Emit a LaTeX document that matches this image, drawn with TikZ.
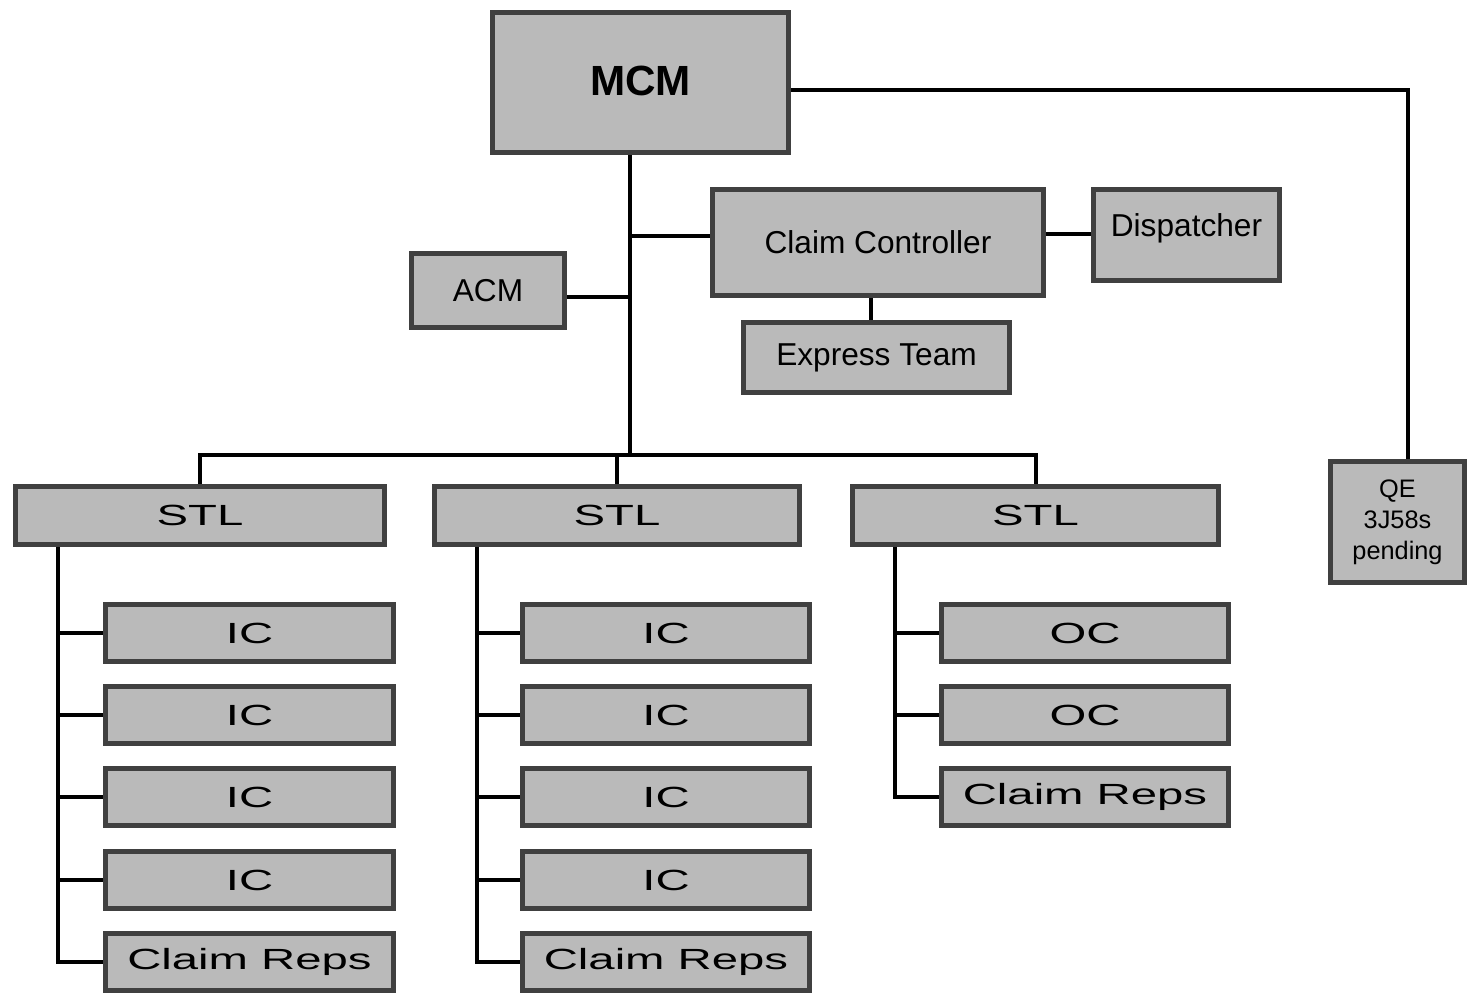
\documentclass[tikz,border=0pt]{standalone}
\usepackage{fontspec}
\usepackage{graphicx}
\setmainfont{Liberation Sans}
\newcommand{\widetxt}[1]{\scalebox{1.62}[1]{#1}}
\tikzset{
  box/.style={draw=black!75, fill=black!27, line width=0.5mm, inner sep=0pt, rectangle, align=center},
  conn/.style={line width=0.4mm, black},
  midtxt/.style={font=\fontsize{9}{11}\selectfont},
  wtxt/.style={font=\fontsize{8.3}{10}\selectfont},
  child/.style={box, minimum width=28.7mm, minimum height=5.7mm, wtxt},
}
\begin{document}
\begin{tikzpicture}[x=0.01cm, y=-0.01cm]
\useasboundingbox[fill=white] (0,0) rectangle (1469,995);
% top nodes
\node[box, minimum width=29.6mm, minimum height=14.0mm, font=\fontsize{12}{14}\selectfont\bfseries] (mcm) at (640.5,82.5) {\raisebox{1pt}{MCM}};
\node[box, minimum width=33.1mm, minimum height=10.6mm, midtxt] (cc) at (878,242.5) {Claim Controller};
\node[box, minimum width=18.6mm, minimum height=9.1mm, midtxt] (disp) at (1186.5,235) {\raisebox{5.5pt}{Dispatcher}};
\node[box, minimum width=15.3mm, minimum height=7.4mm, midtxt] (acm) at (488,290.5) {ACM};
\node[box, minimum width=26.6mm, minimum height=7.0mm, midtxt] (exp) at (876.5,357.5) {Express Team};
\node[box, minimum width=13.4mm, minimum height=12.1mm, font=\fontsize{7.2}{8.8}\selectfont] (qe) at (1397.5,522) {QE\\3J58s\\pending};
% STL nodes
\node[box, minimum width=36.9mm, minimum height=5.8mm, wtxt] (stl1) at (200,515.5) {\widetxt{STL}};
\node[box, minimum width=36.5mm, minimum height=5.8mm, wtxt] (stl2) at (617,515.5) {\widetxt{STL}};
\node[box, minimum width=36.6mm, minimum height=5.8mm, wtxt] (stl3) at (1035.5,515.5) {\widetxt{STL}};
% column 1
\node[child] (a1) at (249.5,633) {\widetxt{IC}};
\node[child] (a2) at (249.5,715) {\widetxt{IC}};
\node[child] (a3) at (249.5,797) {\widetxt{IC}};
\node[child] (a4) at (249.5,880) {\widetxt{IC}};
\node[child] (a5) at (249.5,962) {\widetxt{Claim Reps}};
% column 2
\node[child] (b1) at (666,633) {\widetxt{IC}};
\node[child] (b2) at (666,715) {\widetxt{IC}};
\node[child] (b3) at (666,797) {\widetxt{IC}};
\node[child] (b4) at (666,880) {\widetxt{IC}};
\node[child] (b5) at (666,962) {\widetxt{Claim Reps}};
% column 3
\node[child] (c1) at (1085,633) {\widetxt{OC}};
\node[child] (c2) at (1085,715) {\widetxt{OC}};
\node[child] (c3) at (1085,797) {\widetxt{Claim Reps}};
% coordinates
\coordinate (bus) at (630,455);
\coordinate (j1) at (630,236);
\coordinate (j2) at (630,297);
\coordinate (qc) at (1408,90);
\coordinate (t1) at (58,0);
\coordinate (t2) at (477,0);
\coordinate (t3) at (895,0);
\coordinate (cd) at (0,234);
\coordinate (ce) at (871,0);
% connectors
\draw[conn] (mcm.south -| bus) -- (bus);
\draw[conn] (j1) -- (j1 -| cc.west);
\draw[conn] (acm.east |- j2) -- (j2);
\draw[conn] (cc.east |- cd) -- (disp.west |- cd);
\draw[conn] (cc.south -| ce) -- (exp.north -| ce);
\draw[conn] (mcm.east |- qc) -- (qc) -- (qc |- qe.north);
\draw[conn] (stl1.north) |- (stl3.north |- bus) -- (stl3.north);
\draw[conn] (bus -| stl2.north) -- (stl2.north);
% trunks
\draw[conn] (t1 |- stl1.south) |- (a5.west);
\foreach \n in {a1,a2,a3,a4} \draw[conn] (t1 |- \n.west) -- (\n.west);
\draw[conn] (t2 |- stl2.south) |- (b5.west);
\foreach \n in {b1,b2,b3,b4} \draw[conn] (t2 |- \n.west) -- (\n.west);
\draw[conn] (t3 |- stl3.south) |- (c3.west);
\foreach \n in {c1,c2} \draw[conn] (t3 |- \n.west) -- (\n.west);
\end{tikzpicture}
\end{document}
